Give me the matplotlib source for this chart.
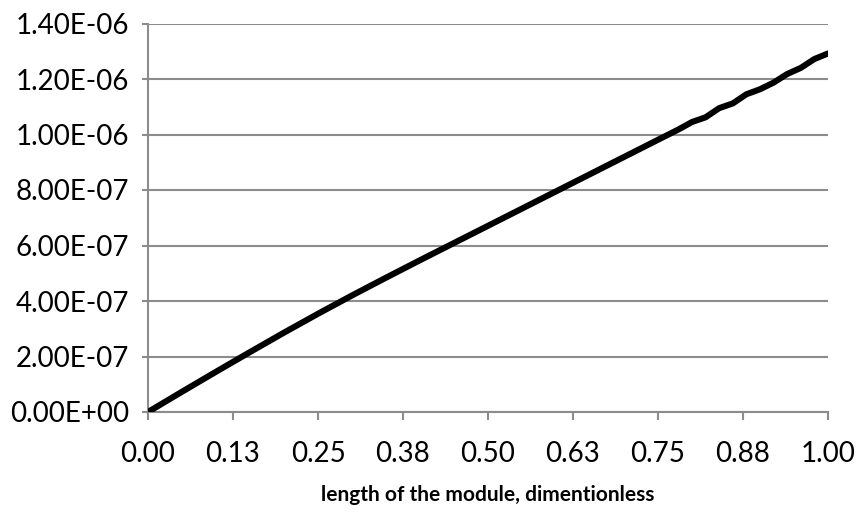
import numpy as np
import matplotlib
matplotlib.use("Agg")
import matplotlib.pyplot as plt
from matplotlib.ticker import FuncFormatter

plt.rcParams["font.family"] = ["Lato", "DejaVu Sans"]

# data
x_vals = [0.00, 0.05, 0.10, 0.15, 0.20, 0.25, 0.30, 0.35, 0.40, 0.45, 0.50,
          0.55, 0.60, 0.65, 0.70, 0.75, 0.78, 0.80, 0.82, 0.84, 0.86, 0.88,
          0.90, 0.92, 0.94, 0.96, 0.98, 1.00]
y_vals = [0.00, 0.73, 1.45, 2.16, 2.86, 3.54, 4.20, 4.84, 5.47, 6.09, 6.71,
          7.33, 7.95, 8.57, 9.19, 9.81, 10.18, 10.45, 10.62, 10.95, 11.12, 11.45,
          11.63, 11.87, 12.18, 12.40, 12.72, 12.92]
y_vals = [v * 1e-7 for v in y_vals]

x_ticks = [0, 0.125, 0.25, 0.375, 0.5, 0.625, 0.75, 0.875, 1.0]
x_tick_labels = ["0.00", "0.13", "0.25", "0.38", "0.50", "0.63", "0.75", "0.88", "1.00"]
y_ticks = [0, 2e-7, 4e-7, 6e-7, 8e-7, 1e-6, 1.2e-6, 1.4e-6]

grid_col = "#8c8c8c"

fig = plt.figure(figsize=(8.61, 5.12), dpi=100)
ax = fig.add_axes([148 / 861, 1 - 412 / 512, (828 - 148) / 861, (412 - 23.5) / 512])

ax.plot(x_vals, y_vals, color="black", lw=4.4, solid_capstyle="round",
        solid_joinstyle="round", zorder=3)

ax.set_xlim(0, 1)
ax.set_ylim(0, 1.4e-6)
ax.set_xticks(x_ticks)
ax.set_xticklabels(x_tick_labels)
ax.set_yticks(y_ticks)
ax.yaxis.set_major_formatter(FuncFormatter(lambda v, p: "%.2E" % v))

ax.grid(axis="y", color=grid_col, lw=1.5, zorder=0)
ax.set_axisbelow(True)
for s in ["top", "right"]:
    ax.spines[s].set_visible(False)
for s in ["left", "bottom"]:
    ax.spines[s].set_color(grid_col)
    ax.spines[s].set_linewidth(1.5)

ax.tick_params(axis="x", length=6, width=1.5, color=grid_col, labelsize=20, pad=15)
ax.tick_params(axis="y", length=4.5, width=1.5, color=grid_col, labelsize=20, pad=9)

ax.set_xlabel("length of the module, dimentionless", fontsize=15,
              fontweight="bold", labelpad=13)

fig.savefig("out.png", dpi=100)
